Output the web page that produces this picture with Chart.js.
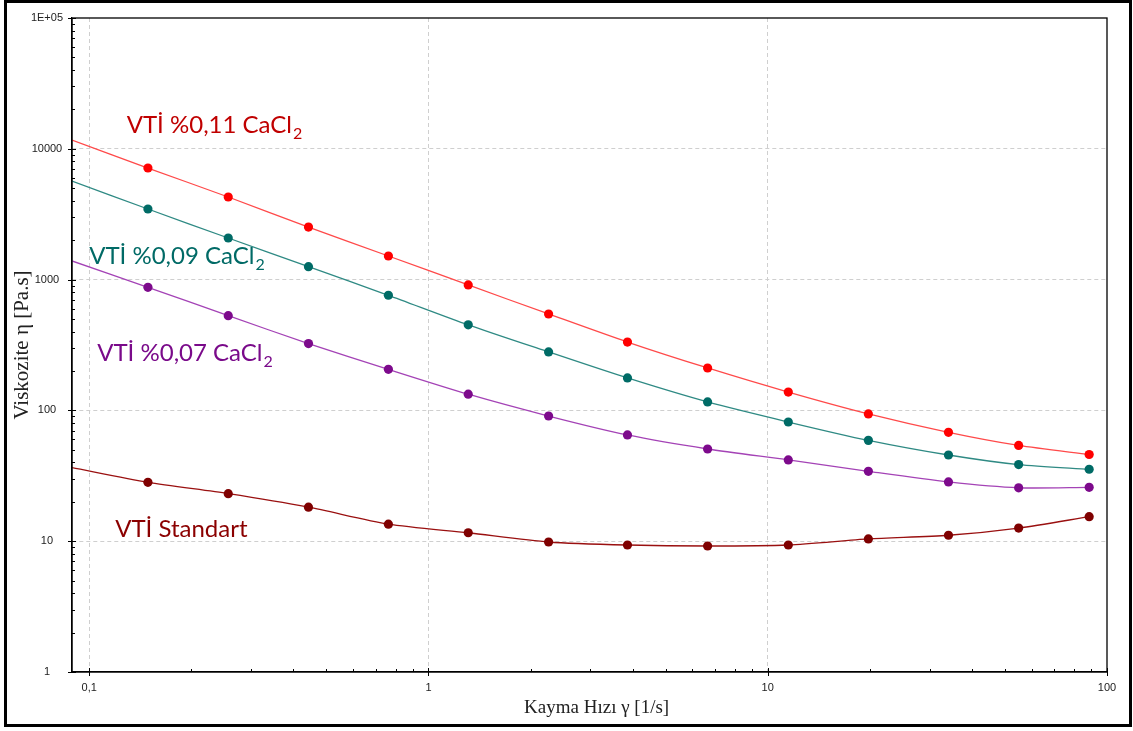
<!DOCTYPE html>
<html>
<head>
<meta charset="utf-8">
<script src="https://cdn.jsdelivr.net/npm/chart.js@4.4.1/dist/chart.umd.min.js"></script>
<style>
  html, body { margin: 0; padding: 0; background: #fff; }
  #wrap { position: relative; width: 1133px; height: 731px; }
  #frame { position: absolute; left: 4px; top: 0; width: 1122px; height: 721px; border: 3px solid #000; pointer-events: none; }
</style>
</head>
<body>
<div id="wrap">
  <canvas id="chart" width="1133" height="731"></canvas>
  <div id="frame"></div>
</div>
<script>
// shear rate (1/s) - first value is where the curves leave the left edge
const shearRate = [0.089, 0.149, 0.257, 0.443, 0.762, 1.31, 2.26, 3.86, 6.65, 11.5, 19.8, 34.1, 54.9, 88.6];

// viscosity (Pa.s)
const vti011 = [11670, 7130, 4280, 2520, 1515, 910, 546, 333, 211, 138, 94, 68, 54, 46];
const vti009 = [5670, 3465, 2080, 1255, 759, 451, 280, 177, 116, 81.5, 59, 45.6, 38.5, 35.5];
const vti007 = [1388, 873, 530, 324, 206, 133, 90.6, 64.9, 50.7, 41.8, 34.2, 28.4, 25.6, 25.8];
const vtiStandart = [36.5, 28.2, 23.1, 18.2, 13.5, 11.6, 9.86, 9.35, 9.19, 9.35, 10.4, 11.1, 12.6, 15.4];

const xMajorTicks = [0.1, 1, 10, 100];
const xTickLabels = ['0,1', '1', '10', '100'];
const yMajorTicks = [1, 10, 100, 1000, 10000, 100000];
const yTickLabels = ['1', '10', '100', '1000', '10000', '1E+05'];

// series labels written on the plot (data coordinates of text start / baseline)
const seriesLabels = [
    { text: 'VTİ %0,11 CaCl', sub: '2', x: 0.129, y: 13200, color: '#c00000' },
    { text: 'VTİ %0,09 CaCl', sub: '2', x: 0.100, y: 1316, color: '#006a66' },
    { text: 'VTİ %0,07 CaCl', sub: '2', x: 0.1056, y: 239, color: '#7a0a8a' },
    { text: 'VTİ Standart', sub: '', x: 0.1193, y: 10.8, color: '#8b0000' }
];

function toPoints(values) {
    return values.map((v, i) => ({ x: shearRate[i], y: v }));
}

// 1..9 x each decade, used for the small tick marks
function logTicks(majors) {
    const out = [];
    majors.forEach((m, i) => {
        out.push(m);
        if (i < majors.length - 1) {
            for (let k = 2; k <= 9; k++) out.push(m * k);
        }
    });
    return out;
}

function isMajor(list, v) {
    return list.some(m => Math.abs(m - v) / m < 1e-6);
}

function series(label, values, lineColor, pointColor) {
    return {
        label: label,
        data: toPoints(values),
        borderColor: lineColor,
        backgroundColor: pointColor,
        borderWidth: 1.3,
        tension: 0.25,
        pointRadius: ctx => ctx.dataIndex === 0 ? 0 : 4.6,
        pointHoverRadius: 5,
        pointBorderWidth: 0,
        pointBackgroundColor: pointColor
    };
}

const frameAndTicks = {
    id: 'frameAndTicks',
    afterDraw(chart) {
        const { ctx, chartArea: a, scales } = chart;
        ctx.save();
        ctx.strokeStyle = '#000';
        ctx.lineWidth = 1.3;
        ctx.strokeRect(a.left, a.top, a.right - a.left, a.bottom - a.top);
        ctx.lineWidth = 1;
        scales.x.ticks.forEach(t => {
            const px = Math.round(scales.x.getPixelForValue(t.value)) + 0.5;
            const maj = isMajor(xMajorTicks, t.value);
            ctx.beginPath();
            ctx.moveTo(px, a.bottom + (maj ? 4 : 0));
            ctx.lineTo(px, a.bottom - (maj ? 4 : 3));
            ctx.stroke();
        });
        scales.y.ticks.forEach(t => {
            const py = Math.round(scales.y.getPixelForValue(t.value)) + 0.5;
            const maj = isMajor(yMajorTicks, t.value);
            ctx.beginPath();
            ctx.moveTo(a.left - (maj ? 4 : 0), py);
            ctx.lineTo(a.left + (maj ? 4 : 3), py);
            ctx.stroke();
        });
        ctx.restore();
    }
};

const seriesText = {
    id: 'seriesText',
    afterDatasetsDraw(chart) {
        const { ctx, scales } = chart;
        ctx.save();
        ctx.textBaseline = 'alphabetic';
        ctx.textAlign = 'left';
        seriesLabels.forEach(l => {
            const px = scales.x.getPixelForValue(l.x);
            const py = scales.y.getPixelForValue(l.y);
            ctx.fillStyle = l.color;
            ctx.font = '24px Lato';
            ctx.fillText(l.text, px, py);
            if (l.sub) {
                const w = ctx.measureText(l.text).width;
                ctx.font = '16px Lato';
                ctx.fillText(l.sub, px + w + 1, py + 6);
            }
        });
        ctx.restore();
    }
};

const ctx = document.getElementById('chart').getContext('2d');
new Chart(ctx, {
    type: 'line',
    data: {
        datasets: [
            series('VTİ %0,11 CaCl2', vti011, '#ff4a4a', '#ff0000'),
            series('VTİ %0,09 CaCl2', vti009, '#2f8a84', '#006b66'),
            series('VTİ %0,07 CaCl2', vti007, '#a443b6', '#7d0a8c'),
            series('VTİ Standart', vtiStandart, '#9a1010', '#7f0000')
        ]
    },
    options: {
        responsive: false,
        animation: false,
        layout: { padding: { top: 18, right: 26, left: 0, bottom: 0 } },
        plugins: {
            legend: { display: false },
            tooltip: { enabled: false }
        },
        scales: {
            x: {
                type: 'logarithmic',
                min: 0.089,
                max: 100,
                afterBuildTicks: axis => { axis.ticks = logTicks(xMajorTicks).map(v => ({ value: v })); },
                afterFit: axis => { axis.height = 59; },
                border: { display: true, color: '#000', width: 1.3, dash: [4, 3] },
                grid: {
                    drawTicks: false,
                    color: c => (c.tick && isMajor(xMajorTicks, c.tick.value) && c.tick.value < 100) ? '#cfcfcf' : 'rgba(0,0,0,0)',
                    lineWidth: 1
                },
                ticks: {
                    autoSkip: false,
                    maxRotation: 0,
                    padding: 9,
                    color: '#222',
                    font: { family: 'Liberation Sans', size: 11 },
                    callback: v => {
                        const i = xMajorTicks.findIndex(m => Math.abs(m - v) / m < 1e-6);
                        return i >= 0 ? xTickLabels[i] : '';
                    }
                },
                title: {
                    display: true,
                    text: '   Kayma Hızı γ [1/s]',
                    color: '#222',
                    font: { family: 'Liberation Serif', size: 19 },
                    padding: { top: 0, bottom: 12 }
                }
            },
            y: {
                type: 'logarithmic',
                min: 1,
                max: 100000,
                afterBuildTicks: axis => { axis.ticks = logTicks(yMajorTicks).map(v => ({ value: v })); },
                afterFit: axis => { axis.width = 72; },
                border: { display: true, color: '#000', width: 1.3, dash: [4, 3] },
                grid: {
                    drawTicks: false,
                    color: c => (c.tick && isMajor(yMajorTicks, c.tick.value) && c.tick.value > 1 && c.tick.value < 100000) ? '#cfcfcf' : 'rgba(0,0,0,0)',
                    lineWidth: 1
                },
                ticks: {
                    autoSkip: false,
                    padding: 9,
                    crossAlign: 'center',
                    color: '#222',
                    font: { family: 'Liberation Sans', size: 11 },
                    callback: v => {
                        const i = yMajorTicks.findIndex(m => Math.abs(m - v) / m < 1e-6);
                        return i >= 0 ? yTickLabels[i] : '';
                    }
                },
                title: {
                    display: true,
                    text: 'Viskozite η [Pa.s]',
                    color: '#222',
                    font: { family: 'Liberation Serif', size: 21 },
                    padding: { top: 10, bottom: 0 }
                }
            }
        }
    },
    plugins: [frameAndTicks, seriesText]
});
</script>
</body>
</html>
